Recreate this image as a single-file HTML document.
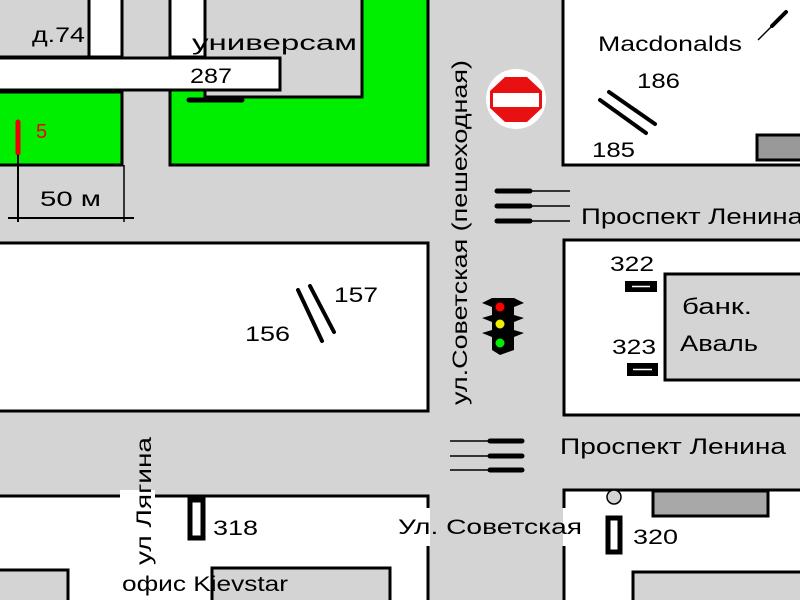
<!DOCTYPE html>
<html><head><meta charset="utf-8"><style>
html,body{margin:0;padding:0;background:#d4d4d4;}
svg{display:block;}
text{font-family:"Liberation Sans","DejaVu Sans",sans-serif;fill:#000;}
</style></head><body>
<svg width="800" height="600" viewBox="0 0 800 600" xmlns="http://www.w3.org/2000/svg">
<rect x="0" y="0" width="800" height="600" fill="#d4d4d4"/>
<!-- top-left -->
<rect x="-5" y="-5" width="94" height="62" fill="#d4d4d4" stroke="#000" stroke-width="3"/>
<rect x="89" y="-5" width="33" height="62" fill="#fff" stroke="#000" stroke-width="3"/>
<rect x="-5" y="92" width="127" height="73" fill="#00ee00" stroke="#000" stroke-width="3"/>
<rect x="170" y="-5" width="258" height="170" fill="#00ee00" stroke="#000" stroke-width="3"/>
<rect x="170" y="-5" width="35" height="62" fill="#fff" stroke="#000" stroke-width="3"/>
<rect x="205" y="-5" width="157" height="102" fill="#d4d4d4" stroke="#000" stroke-width="3"/>
<rect x="-5" y="58" width="285" height="32" fill="#fff" stroke="#000" stroke-width="3"/>
<text x="32" y="42" font-size="21" textLength="53" lengthAdjust="spacingAndGlyphs">д.74</text>
<text x="192" y="50" font-size="21" textLength="165" lengthAdjust="spacingAndGlyphs">универсам</text>
<text x="190" y="83" font-size="21" textLength="42" lengthAdjust="spacingAndGlyphs">287</text>
<line x1="189" y1="100" x2="242" y2="100" stroke="#000" stroke-width="5" stroke-linecap="round"/>
<!-- scale -->
<line x1="18" y1="122" x2="18" y2="153" stroke="#e00" stroke-width="5" stroke-linecap="round"/>
<text x="36" y="138" font-size="20" style="fill:#e00">5</text>
<line x1="18" y1="155" x2="18" y2="222" stroke="#000" stroke-width="2"/>
<line x1="124" y1="165" x2="124" y2="222" stroke="#000" stroke-width="1.5"/>
<line x1="8" y1="218" x2="134" y2="218" stroke="#000" stroke-width="2"/>
<text x="40" y="206" font-size="21" textLength="61" lengthAdjust="spacingAndGlyphs">50 м</text>
<!-- left white block -->
<rect x="-5" y="243" width="433" height="168" fill="#fff" stroke="#000" stroke-width="3"/>
<g stroke="#000" stroke-width="4" stroke-linecap="round">
<line x1="298" y1="290" x2="322" y2="341"/><line x1="310" y1="286" x2="334" y2="332"/></g>
<text x="245" y="341" font-size="21" textLength="45" lengthAdjust="spacingAndGlyphs">156</text>
<text x="334" y="302" font-size="21" textLength="44" lengthAdjust="spacingAndGlyphs">157</text>
<!-- bottom-left -->
<rect x="-5" y="496" width="433" height="120" fill="#fff" stroke="#000" stroke-width="3"/>
<rect x="120" y="490" width="35" height="10" fill="#fff"/>
<rect x="-5" y="570" width="73" height="40" fill="#d4d4d4" stroke="#000" stroke-width="3"/>
<rect x="212" y="568" width="178" height="40" fill="#d4d4d4" stroke="#000" stroke-width="3"/>
<rect x="190" y="500" width="13" height="38" fill="#fff" stroke="#000" stroke-width="5"/>
<text x="213" y="535" font-size="21" textLength="45" lengthAdjust="spacingAndGlyphs">318</text>
<text transform="translate(151,565) rotate(-90)" font-size="21" textLength="128" lengthAdjust="spacingAndGlyphs">ул Лягина</text>
<text x="122" y="591" font-size="21" textLength="166" lengthAdjust="spacingAndGlyphs">офис Kievstar</text>
<!-- right top -->
<rect x="563" y="-5" width="250" height="170" fill="#fff" stroke="#000" stroke-width="3"/>
<rect x="757" y="135" width="50" height="25" fill="#999" stroke="#000" stroke-width="3"/>
<text x="598" y="51" font-size="21" textLength="144" lengthAdjust="spacingAndGlyphs">Macdonalds</text>
<line x1="758" y1="40" x2="772" y2="26" stroke="#000" stroke-width="1.5"/>
<line x1="772" y1="26" x2="786" y2="12" stroke="#000" stroke-width="4" stroke-linecap="round"/>
<text x="637" y="88" font-size="21" textLength="43" lengthAdjust="spacingAndGlyphs">186</text>
<text x="592" y="157" font-size="21" textLength="43" lengthAdjust="spacingAndGlyphs">185</text>
<g stroke="#000" stroke-width="4" stroke-linecap="round">
<line x1="600" y1="100" x2="646" y2="133"/><line x1="609" y1="92" x2="655" y2="124"/></g>
<!-- stop sign -->
<circle cx="516" cy="99" r="30" fill="#fff"/>
<polygon points="505,77 527,77 542,91 542,108 527,122 505,122 490,108 490,91" fill="#e81010"/>
<rect x="493" y="93" width="46" height="14" fill="#fff"/>
<!-- road label -->
<text transform="translate(467,405) rotate(-90)" font-size="21" textLength="345" lengthAdjust="spacingAndGlyphs">ул.Советская (пешеходная)</text>
<!-- crosswalk 1 -->
<g stroke="#000">
<line x1="497" y1="191" x2="530" y2="191" stroke-width="5" stroke-linecap="round"/>
<line x1="497" y1="206" x2="530" y2="206" stroke-width="5" stroke-linecap="round"/>
<line x1="497" y1="221" x2="530" y2="221" stroke-width="5" stroke-linecap="round"/>
<line x1="530" y1="191" x2="570" y2="191" stroke-width="1.5"/>
<line x1="530" y1="206" x2="570" y2="206" stroke-width="1.5"/>
<line x1="530" y1="221" x2="570" y2="221" stroke-width="1.5"/>
</g>
<text x="581" y="224" font-size="22" textLength="222" lengthAdjust="spacingAndGlyphs">Проспект Ленина</text>
<!-- right middle -->
<rect x="564" y="240" width="250" height="175" fill="#fff" stroke="#000" stroke-width="3"/>
<rect x="665" y="274" width="150" height="106" fill="#d4d4d4" stroke="#000" stroke-width="3"/>
<text x="682" y="314" font-size="22" textLength="70" lengthAdjust="spacingAndGlyphs">банк.</text>
<text x="680" y="351" font-size="22" textLength="78" lengthAdjust="spacingAndGlyphs">Аваль</text>
<text x="610" y="271" font-size="21" textLength="44" lengthAdjust="spacingAndGlyphs">322</text>
<text x="612" y="354" font-size="21" textLength="44" lengthAdjust="spacingAndGlyphs">323</text>
<rect x="625" y="281" width="32" height="11" fill="#000"/><line x1="632" y1="286.5" x2="650" y2="286.5" stroke="#fff" stroke-width="1.5"/>
<rect x="627" y="363" width="31" height="13" fill="#000"/><line x1="633" y1="369.5" x2="652" y2="369.5" stroke="#fff" stroke-width="1.5"/>
<!-- traffic light -->
<g>
<polygon points="482,303 492,298 514,298 524,303 514,307 514,315 524,318 514,322 514,330 524,333 514,337 514,350 500,355 492,350 492,337 482,333 492,330 492,322 482,318 492,315 492,307" fill="#000"/>
<circle cx="500" cy="307" r="4.5" fill="#f00"/>
<circle cx="500" cy="324" r="4.5" fill="#ee0"/>
<circle cx="500" cy="343" r="4.5" fill="#0e0"/>
</g>
<!-- crosswalk 2 -->
<g stroke="#000">
<line x1="490" y1="441" x2="522" y2="441" stroke-width="5" stroke-linecap="round"/>
<line x1="490" y1="456" x2="522" y2="456" stroke-width="5" stroke-linecap="round"/>
<line x1="490" y1="470" x2="522" y2="470" stroke-width="5" stroke-linecap="round"/>
<line x1="450" y1="441" x2="490" y2="441" stroke-width="1.5"/>
<line x1="450" y1="456" x2="490" y2="456" stroke-width="1.5"/>
<line x1="450" y1="470" x2="490" y2="470" stroke-width="1.5"/>
</g>
<text x="560" y="454" font-size="22" textLength="226" lengthAdjust="spacingAndGlyphs">Проспект Ленина</text>
<!-- bottom right -->
<rect x="564" y="490" width="250" height="130" fill="#fff" stroke="#000" stroke-width="3"/>
<rect x="653" y="491" width="115" height="25" fill="#a8a8a8" stroke="#000" stroke-width="3"/>
<rect x="633" y="572" width="180" height="40" fill="#d4d4d4" stroke="#000" stroke-width="3"/>
<circle cx="614" cy="497" r="7" fill="#d4d4d4" stroke="#000" stroke-width="1.5"/>
<rect x="608" y="518" width="12" height="34" fill="#fff" stroke="#000" stroke-width="5"/>
<text x="633" y="544" font-size="21" textLength="45" lengthAdjust="spacingAndGlyphs">320</text>
<!-- Ул. Советская label -->
<rect x="395" y="508" width="192" height="38" fill="#fff"/>
<rect x="430" y="508" width="133" height="38" fill="#d4d4d4"/>
<text x="398" y="534" font-size="21" textLength="184" lengthAdjust="spacingAndGlyphs">Ул. Советская</text>
</svg>
</body></html>
